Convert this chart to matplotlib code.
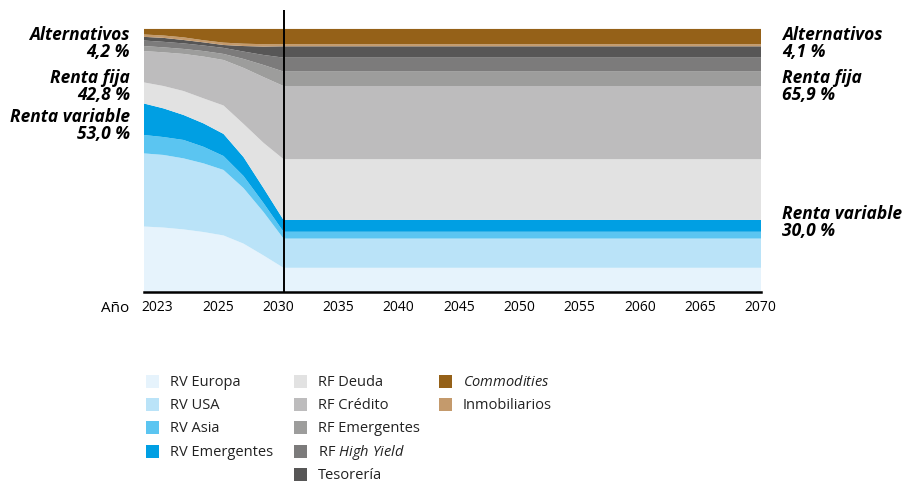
import matplotlib
matplotlib.use("Agg")
import matplotlib.pyplot as plt
from matplotlib.patches import Rectangle

plt.rcParams['font.family'] = ['Open Sans', 'DejaVu Sans']
plt.rcParams['mathtext.fontset'] = 'custom'
plt.rcParams['mathtext.rm'] = 'Open Sans'
plt.rcParams['mathtext.it'] = 'Open Sans:italic'

# years of the glide path (flat after 2030)
years = [2023, 2024, 2025, 2026, 2027, 2028, 2029, 2030, 2070]

# weights in %, stacked from bottom to top
rv_europa = [24.9, 24.5, 23.8, 22.8, 21.5, 18.4, 13.9, 9.2, 9.2]
rv_usa = [27.8, 27.6, 27.0, 26.1, 24.9, 21.1, 16.5, 11.1, 11.1]
rv_asia = [7.0, 6.8, 7.0, 6.3, 5.3, 4.6, 3.4, 2.6, 2.6]
rv_emerg = [12.0, 10.9, 9.5, 8.9, 8.4, 7.2, 5.7, 4.5, 4.5]
rf_deuda = [8.0, 8.5, 9.1, 9.5, 10.8, 12.6, 17.2, 23.1, 23.1]
rf_credito = [11.9, 12.8, 14.1, 15.9, 17.3, 21.3, 25.0, 27.8, 27.8]
rf_emerg = [1.9, 1.9, 1.9, 2.1, 2.3, 3.4, 4.6, 5.5, 5.5]
rf_hy = [2.1, 2.1, 2.1, 2.1, 2.3, 2.8, 3.8, 5.3, 5.3]
tesoreria = [1.4, 1.5, 1.3, 1.2, 1.1, 2.1, 3.2, 4.3, 4.3]
inmob = [0.9, 0.9, 1.0, 0.8, 0.9, 0.9, 0.9, 0.8, 0.8]
commodities = [2.1, 2.5, 3.2, 4.3, 5.2, 5.6, 5.8, 5.8, 5.8]

series = [rv_europa, rv_usa, rv_asia, rv_emerg, rf_deuda, rf_credito,
          rf_emerg, rf_hy, tesoreria, inmob, commodities]
colors = ['#E6F3FC', '#BAE3F8', '#5BC5F1', '#009FE3', '#E2E2E2', '#BDBCBD',
          '#9D9D9C', '#7C7B7B', '#575656', '#C49A6C', '#956118']
names = ['RV Europa', 'RV USA', 'RV Asia', 'RV Emergentes', 'RF Deuda',
         'RF Crédito', 'RF Emergentes', 'RF $\\it{High\\ Yield}$', 'Tesorería',
         'Inmobiliarios', '$\\it{Commodities}$']

tick_labels = ['2023', '2025', '2030', '2035', '2040', '2045', '2050',
               '2055', '2060', '2065', '2070']

left_labels = [('Alternativos', '4,2 %', 35), ('Renta fija', '42,8 %', 78),
               ('Renta variable', '53,0 %', 117)]
right_labels = [('Alternativos', '4,1 %', 35), ('Renta fija', '65,9 %', 78),
                ('Renta variable', '30,0 %', 214)]

# legend layout: series index per column
legend_cols = [[0, 1, 2, 3], [4, 5, 6, 7, 8], [10, 9]]


# x axis: tick labels are evenly spaced slots, first years are stretched
def pos(y):
    if y <= 2030:
        return -0.232 + (y - 2023) * 0.3317
    return 2.0896 + (y - 2030) * 0.19796


x = [pos(y) for y in years]

W, H = 903, 482
fig = plt.figure(figsize=(W / 100, H / 100), dpi=100)
ax = fig.add_axes([143.5 / W, 1 - 292 / H, 617.5 / W, 282 / H])

ax.stackplot(x, *series, colors=colors, linewidth=0)
ax.axvline(pos(2030), color='black', lw=1.4)

ax.set_xlim(pos(2023), pos(2070))
ax.set_ylim(0, 107.2)
ax.set_xticks(range(len(tick_labels)))
ax.set_xticklabels(tick_labels, fontsize=10)
ax.tick_params(axis='x', length=0, pad=6)
ax.set_yticks([])
for s in ['top', 'left', 'right']:
    ax.spines[s].set_visible(False)
ax.spines['bottom'].set_linewidth(1.8)
ax.spines['bottom'].set_color('black')

fig.text(129 / W, 1 - 309 / H, 'Año', ha='right', va='center', fontsize=11)

lab_kw = dict(fontsize=12.5, fontweight='bold', fontstyle='italic', va='center')
for t1, t2, ypx in left_labels:
    fig.text(130 / W, 1 - ypx / H, t1, ha='right', **lab_kw)
    fig.text(130 / W, 1 - (ypx + 17) / H, t2, ha='right', **lab_kw)
for t1, t2, ypx in right_labels:
    fig.text(782 / W, 1 - ypx / H, t1, ha='left', **lab_kw)
    fig.text(782 / W, 1 - (ypx + 17) / H, t2, ha='left', **lab_kw)

# legend drawn by hand: three columns of square + label
col_x = [146, 294, 439]
sq = 13
for col, idx_list in enumerate(legend_cols):
    for row, i in enumerate(idx_list):
        cy = 381.5 + row * 23.2
        fig.patches.append(Rectangle((col_x[col] / W, 1 - (cy + sq / 2) / H),
                                     sq / W, sq / H, transform=fig.transFigure,
                                     facecolor=colors[i], edgecolor='none'))
        fig.text((col_x[col] + 24) / W, 1 - (cy + 4.5) / H, names[i],
                 ha='left', va='baseline', fontsize=10.5, color='#222222')

fig.savefig('out.png', dpi=100)
